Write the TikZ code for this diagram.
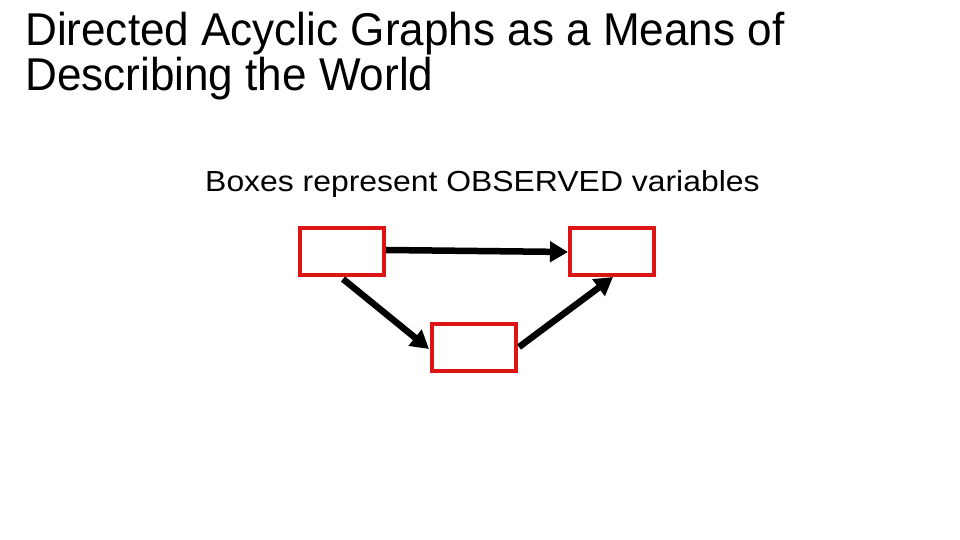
\documentclass[tikz,border=0pt]{standalone}
\usepackage{fontspec}
\setmainfont{Liberation Sans}
\usetikzlibrary{arrows.meta}
\definecolor{boxred}{RGB}{220,20,20}
\tikzset{
  varbox/.style={draw=boxred, line width=4pt, minimum width=84pt, minimum height=47pt, inner sep=0pt, outer sep=0pt},
  edge/.style={line width=6.5pt, -{Triangle[length=18pt,width=20pt]}},
  titletext/.style={anchor=base west, font=\fontsize{46}{52}\selectfont, inner sep=0pt, xscale=0.958}
}
\begin{document}
\begin{tikzpicture}[x=1pt,y=1pt]
\useasboundingbox (0,0) rectangle (960,540);
\node[titletext] (t1) at (25,494.5) {Directed Acyclic Graphs as a Means of};
\node[titletext] (t2) at (25,449) {Describing the World};
\node[anchor=base west, font=\fontsize{29}{34}\selectfont, inner sep=0pt, xscale=1.1] (sub) at (205,348) {Boxes represent OBSERVED variables};
\node[varbox] (a) at (342,288.5) {};
\node[varbox] (b) at (612,288.5) {};
\node[varbox] (c) at (474,192.5) {};
\draw[edge] (386,290) -- (568,288);
\draw[edge] (343,261) -- (429,191);
\draw[edge] (519,193) -- (613,263);
\end{tikzpicture}
\end{document}
